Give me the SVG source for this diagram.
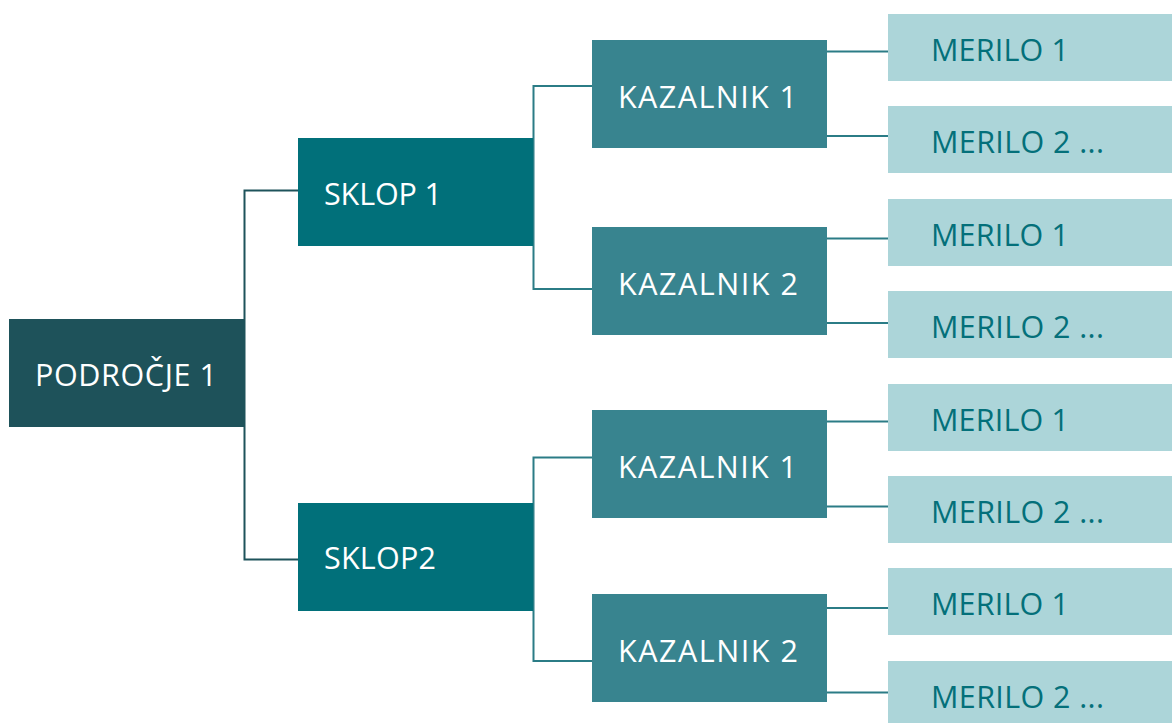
<svg xmlns="http://www.w3.org/2000/svg" width="1172" height="723" viewBox="0 0 1172 723">
<style>
.t{font-family:"Open Sans","Noto Sans",sans-serif;font-size:30.5px;}
.w{fill:#ffffff;}
.m{fill:#04707a;}
.c1{fill:none;stroke:#1e535b;stroke-width:2;}
.c2{fill:none;stroke:#2b7c86;stroke-width:2;}
.p{fill:#1e525a;}
.s{fill:#01707a;}
.k{fill:#38848f;}
.r{fill:#acd5d9;}
</style>
<rect width="1172" height="723" fill="#ffffff"/>
<g id="connectors">
<path class="c1" d="M298 190.5 H244.5 V559.5 H298"/>
<path class="c2" d="M592 86 H533.5 V289 H592"/>
<path class="c2" d="M592 457.5 H533.5 V661 H592"/>
<path class="c2" d="M827 51.5 H888 M827 136 H888 M827 238.5 H888 M827 323 H888 M827 421.5 H888 M827 506.5 H888 M827 608 H888 M827 692.5 H888"/>
</g>
<g id="podrocje1"><rect class="p" x="9" y="319" width="236" height="108"/><text class="t w" x="35" y="386" textLength="182">PODROČJE 1</text></g>
<g id="sklop1"><rect class="s" x="298" y="138" width="235" height="108"/><text class="t w" x="324" y="205" textLength="118">SKLOP 1</text></g>
<g id="sklop2"><rect class="s" x="298" y="503" width="235" height="108"/><text class="t w" x="324" y="569" textLength="112">SKLOP2</text></g>
<g id="kazalnik1a"><rect class="k" x="592" y="40" width="235" height="108"/><text class="t w" x="618" y="108" textLength="179">KAZALNIK 1</text></g>
<g id="kazalnik2a"><rect class="k" x="592" y="227" width="235" height="108"/><text class="t w" x="618" y="295" textLength="180">KAZALNIK 2</text></g>
<g id="kazalnik1b"><rect class="k" x="592" y="410" width="235" height="108"/><text class="t w" x="618" y="478" textLength="179">KAZALNIK 1</text></g>
<g id="kazalnik2b"><rect class="k" x="592" y="594" width="235" height="108"/><text class="t w" x="618" y="662" textLength="180">KAZALNIK 2</text></g>
<g id="merilo1a"><rect class="r" x="888" y="14" width="284" height="67"/><text class="t m" x="931" y="61" textLength="138">MERILO 1</text></g>
<g id="merilo2a"><rect class="r" x="888" y="106" width="284" height="67"/><text class="t m" x="931" y="153" textLength="173">MERILO 2 ...</text></g>
<g id="merilo1b"><rect class="r" x="888" y="199" width="284" height="67"/><text class="t m" x="931" y="246" textLength="138">MERILO 1</text></g>
<g id="merilo2b"><rect class="r" x="888" y="291" width="284" height="67"/><text class="t m" x="931" y="338" textLength="173">MERILO 2 ...</text></g>
<g id="merilo1c"><rect class="r" x="888" y="384" width="284" height="67"/><text class="t m" x="931" y="431" textLength="138">MERILO 1</text></g>
<g id="merilo2c"><rect class="r" x="888" y="476" width="284" height="67"/><text class="t m" x="931" y="523" textLength="173">MERILO 2 ...</text></g>
<g id="merilo1d"><rect class="r" x="888" y="568" width="284" height="67"/><text class="t m" x="931" y="615" textLength="138">MERILO 1</text></g>
<g id="merilo2d"><rect class="r" x="888" y="661" width="284" height="62"/><text class="t m" x="931" y="708" textLength="173">MERILO 2 ...</text></g>
</svg>
